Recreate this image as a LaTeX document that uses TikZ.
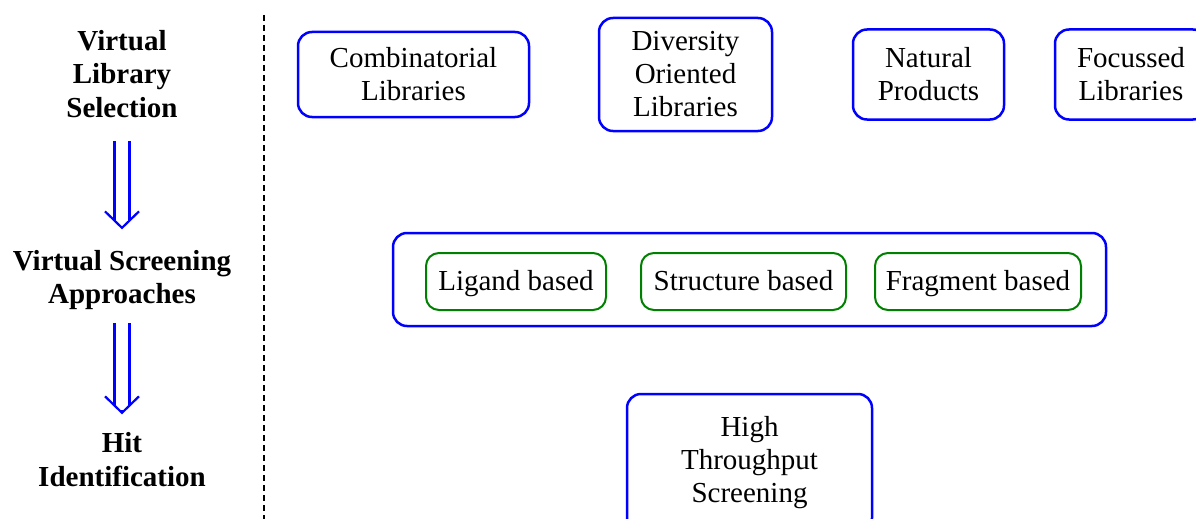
\documentclass[tikz,border=0pt]{standalone}
\usepackage{fontspec}
\setmainfont{Liberation Serif}
\usetikzlibrary{arrows.meta}

\definecolor{boxblue}{RGB}{0,0,255}
\definecolor{boxgreen}{RGB}{0,128,0}

\tikzset{
  stagelabel/.style={align=center, inner sep=0pt, font=\fontsize{29}{33.5}\selectfont\bfseries},
  libbox/.style={draw=boxblue, line width=2.5pt, rounded corners=14pt, align=center,
    inner sep=0pt, font=\fontsize{29}{33}\selectfont},
  methodbox/.style={draw=boxgreen, line width=2pt, rounded corners=13pt, align=center,
    inner sep=0pt, minimum height=57pt, text height=24pt, text depth=7pt,
    font=\fontsize{29}{33}\selectfont},
  flowshaft/.style={draw=boxblue, double, double distance=12.8pt, line width=2.2pt},
  flowtip/.style={draw=boxblue, line width=2.2pt, -{Straight Barb[length=16.5pt, width=34pt]}}
}

\begin{document}
\begin{tikzpicture}[x=1pt, y=-1pt]
		\useasboundingbox (0,0) rectangle (1196,519);

		% Stufen links
		\node[stagelabel] (sel) at (122,74) {Virtual\\Library\\Selection};
		\node[stagelabel] (vsa) at (122,280) {Virtual Screening\\Approaches};
		\node[stagelabel] (hit) at (122,459.5) {Hit\\Identification};

		\draw[flowshaft, shorten <=23pt, shorten >=29pt] (sel.south) -- (vsa.north);
		\draw[flowtip, shorten <=110pt, shorten >=20.5pt] (sel.south) -- (vsa.north);
		\draw[flowshaft, shorten <=13pt, shorten >=26.5pt] (vsa.south) -- (hit.north);
		\draw[flowtip, shorten <=100pt, shorten >=18pt] (vsa.south) -- (hit.north);

		% Trennlinie
		\draw[dashed, dash pattern=on 6pt off 4pt, line width=1.5pt] (264,15) -- (264,519);

		% Bibliotheken
		\node[libbox, minimum width=231pt, minimum height=85pt] (comb) at (413.5,74.5) {Combinatorial\\Libraries};
		\node[libbox, minimum width=173pt, minimum height=113pt] (div) at (685.5,74.5) {Diversity\\Oriented\\Libraries};
		\node[libbox, minimum width=151pt, minimum height=90pt] (nat) at (928.5,74.5) {Natural\\Products};
		\node[libbox, minimum width=152pt, minimum height=90pt] (foc) at (1131,74.5) {Focussed\\Libraries};

		% Screening-Ansaetze
		\node[libbox, minimum width=713pt, minimum height=93pt] (vs) at (749.5,279.5) {};
		\node[methodbox, minimum width=180pt] (lig) at (516,281.5) {Ligand based};
		\node[methodbox, minimum width=205pt] (str) at (743.5,281.5) {Structure based};
		\node[methodbox, minimum width=206pt] (frag) at (978,281.5) {Fragment based};

		% Treffer
		\node[libbox, minimum width=245pt, minimum height=138pt] (hts) at (749.5,463) {High\\Throughput\\Screening};
	\end{tikzpicture}
\end{document}
